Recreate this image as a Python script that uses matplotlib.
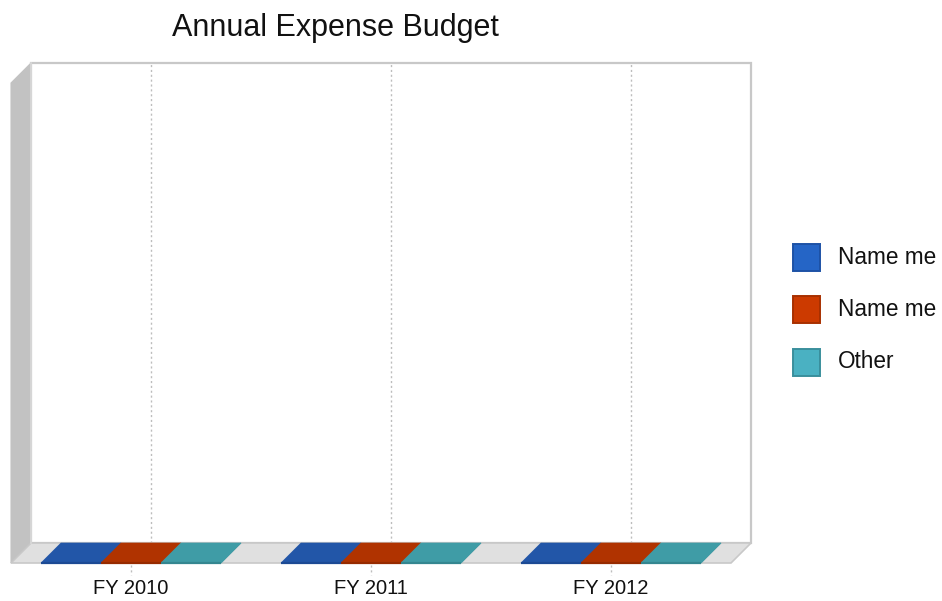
import matplotlib
matplotlib.use("Agg")
import matplotlib.pyplot as plt
from matplotlib.patches import Polygon, Rectangle
import numpy as np

plt.rcParams['font.family'] = ['Liberation Sans', 'DejaVu Sans']

# ---- data -------------------------------------------------------------
title = "Annual Expense Budget"
categories = ["FY 2010", "FY 2011", "FY 2012"]
series_names = ["Name me", "Name me", "Other"]
values = [
    [0, 0, 0],   # Name me
    [0, 0, 0],   # Name me
    [0, 0, 0],   # Other
]
y_max = 1.0

# ---- styling ----------------------------------------------------------
top_colors = ["#2256a8", "#b03300", "#3f9ca6"]
front_colors = ["#1c4a94", "#962b00", "#348690"]
legend_fill = ["#2565c6", "#cc3a00", "#4ab1c2"]
legend_edge = ["#1d52a6", "#a83000", "#3a8f9c"]
wall_side = "#c2c2c2"
floor_col = "#e0e0e0"
edge_col = "#c8c8c8"
depth_px = 20.0
group_frac = 0.75

W, H = 942, 601
fig = plt.figure(figsize=(W / 100, H / 100), dpi=100)
# back wall of the 3-D box
left, right, top, bottom = 31, 751, 63, 543
ax = fig.add_axes([left / W, (H - bottom) / H, (right - left) / W, (bottom - top) / H])
n_cat = len(categories)
ax.set_xlim(0, n_cat)
ax.set_ylim(0, y_max)
ax.axis("off")

# depth offset (towards the viewer: left and down) in data units
inv = ax.transData.inverted()
o = ax.transData.transform((0, 0))
dx, dy = inv.transform((o[0] - depth_px, o[1] - depth_px))


def poly(pts, **kw):
    p = Polygon(pts, closed=True, clip_on=False, **kw)
    ax.add_patch(p)
    return p


# back wall
poly([(0, 0), (n_cat, 0), (n_cat, y_max), (0, y_max)], facecolor="white",
     edgecolor=edge_col, linewidth=1.6, zorder=1)
# left side wall
poly([(dx, dy), (0, 0), (0, y_max), (dx, y_max + dy)], facecolor=wall_side,
     edgecolor=wall_side, linewidth=0.8, zorder=2)
ax.plot([0, 0], [0, y_max], color="#dadada", lw=1.2, zorder=2.5, clip_on=False)
# floor
poly([(dx, dy), (n_cat + dx, dy), (n_cat, 0), (0, 0)], facecolor=floor_col,
     edgecolor=edge_col, linewidth=1.2, zorder=2)

# gridlines on the back wall, tick marks and labels under the floor
for j in range(n_cat):
    xc = j + 0.5
    ax.plot([xc, xc], [0, y_max], color="#bdbdbd", lw=1.0, ls=(0, (1.5, 2)),
            zorder=1.5, clip_on=False)
    ax.plot([xc + dx, xc + dx], [dy * 1.1, dy * 1.6], color="#bdbdbd", lw=1.0,
            ls=(0, (1.5, 2)), zorder=1.5, clip_on=False)
    ax.text(xc + dx, dy * 2.3, categories[j], ha="center", va="center",
            fontsize=14.5, color="#111111", clip_on=False)

# bars
n_ser = len(series_names)
bw = group_frac / n_ser
for j in range(n_cat):
    x0 = j + (1 - group_frac) / 2
    for i in range(n_ser):
        v = values[i][j]
        xl = x0 + i * bw
        xr = xl + bw
        # front face
        poly([(xl + dx, dy), (xr + dx, dy), (xr + dx, v + dy), (xl + dx, v + dy)],
             facecolor=front_colors[i], edgecolor=front_colors[i], lw=1.2, zorder=4)
        # side face
        poly([(xr + dx, dy), (xr, 0), (xr, v), (xr + dx, v + dy)],
             facecolor=front_colors[i], edgecolor=front_colors[i], lw=0.5, zorder=3)
        # top face
        poly([(xl + dx, v + dy), (xr + dx, v + dy), (xr, v), (xl, v)],
             facecolor=top_colors[i], edgecolor=top_colors[i], lw=0.5, zorder=5)
        ax.plot([xl + dx, xr + dx], [v + dy, v + dy], color=front_colors[i],
                lw=1.6, zorder=6, clip_on=False, solid_capstyle="butt")

# title
fig.text(335 / W, 1 - 28 / H, title, ha="center", va="center", fontsize=22,
         color="#111111")

# legend: swatches and labels stacked on the right
leg_x, leg_y0, leg_step, sw = 793, 257, 52.5, 27
for i, name in enumerate(series_names):
    yc = leg_y0 + i * leg_step
    fig.patches.append(Rectangle(((leg_x) / W, 1 - (yc + sw / 2) / H), sw / W, sw / H,
                                 transform=fig.transFigure, facecolor=legend_fill[i],
                                 edgecolor=legend_edge[i], linewidth=1.4))
    fig.text((leg_x + sw + 18) / W, 1 - yc / H, name, ha="left", va="center",
             fontsize=16.3, color="#111111")

fig.savefig("out.png", dpi=100)
